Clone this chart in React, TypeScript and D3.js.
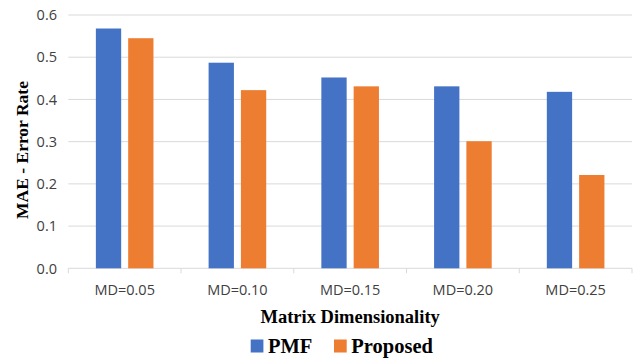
import React from "react";
import * as d3 from "d3";

const categories = ["MD=0.05", "MD=0.10", "MD=0.15", "MD=0.20", "MD=0.25"];
const seriesNames = ["PMF", "Proposed"];
const pmfValues = [0.568, 0.487, 0.452, 0.431, 0.418];
const proposedValues = [0.545, 0.422, 0.431, 0.301, 0.221];
const yTicks = [0, 0.1, 0.2, 0.3, 0.4, 0.5, 0.6];
const colors = ["#4472C4", "#ED7D31"];

const W = 636;
const H = 360;
const plot = { left: 68.3, right: 632, top: 15, bottom: 268.3 };

export default function App() {
  const x = d3
    .scaleBand<string>()
    .domain(categories)
    .range([plot.left, plot.right])
    .paddingInner(0)
    .paddingOuter(0);
  const y = d3.scaleLinear().domain([0, 0.6]).range([plot.bottom, plot.top]);

  const barW = 25.3;
  const gap = 7;
  const series = [pmfValues, proposedValues];
  const fmt = d3.format(".1f");

  const tickFont = "'Open Sans', 'Liberation Sans', sans-serif";
  const titleFont = "'Liberation Serif', 'Times New Roman', serif";

  return (
    <svg
      width={W}
      height={H}
      style={{ position: "absolute", left: 0, top: 0, background: "#fff" }}
    >
      {/* gridlines */}
      {yTicks.map((t) => (
        <line
          key={"g" + t}
          x1={plot.left}
          x2={plot.right}
          y1={y(t)}
          y2={y(t)}
          stroke="#d9d9d9"
          strokeWidth={1}
        />
      ))}
      {/* category tick marks */}
      {categories.map((c) => (
        <line
          key={"t" + c}
          x1={x(c)!}
          x2={x(c)!}
          y1={plot.bottom}
          y2={plot.bottom + 5}
          stroke="#d9d9d9"
        />
      ))}
      <line
        x1={plot.right}
        x2={plot.right}
        y1={plot.bottom}
        y2={plot.bottom + 5}
        stroke="#d9d9d9"
      />
      {/* bars */}
      {series.map((vals, si) =>
        vals.map((v, i) => {
          const cx = x(categories[i])! + x.bandwidth() / 2;
          const x0 = si === 0 ? cx - gap / 2 - barW : cx + gap / 2;
          return (
            <rect
              key={si + "-" + i}
              x={x0}
              y={y(v)}
              width={barW}
              height={y(0) - y(v)}
              fill={colors[si]}
            />
          );
        })
      )}
      {/* y tick labels */}
      {yTicks.map((t) => (
        <text
          key={"yl" + t}
          x={57}
          y={y(t)}
          dy="0.36em"
          textAnchor="end"
          fontFamily={tickFont}
          fontSize={14.5}
          fill="#404040"
        >
          {fmt(t)}
        </text>
      ))}
      {/* x tick labels */}
      {categories.map((c) => (
        <text
          key={"xl" + c}
          x={x(c)! + x.bandwidth() / 2}
          y={295}
          textAnchor="middle"
          fontFamily={tickFont}
          fontSize={14.5}
          fill="#404040"
        >
          {c}
        </text>
      ))}
      {/* axis titles */}
      <text
        x={(plot.left + plot.right) / 2}
        y={322.7}
        textAnchor="middle"
        fontFamily={titleFont}
        fontWeight="bold"
        fontSize={18.5}
        fill="#000"
      >
        Matrix Dimensionality
      </text>
      <text
        transform={`translate(28,150) rotate(-90)`}
        textAnchor="middle"
        fontFamily={titleFont}
        fontWeight="bold"
        fontSize={17.5}
        fill="#000"
      >
        MAE - Error Rate
      </text>
      {/* legend */}
      {seriesNames.map((name, i) => {
        const lx = i === 0 ? 250.7 : 334;
        return (
          <g key={name}>
            <rect x={lx} y={339.5} width={12.7} height={13} fill={colors[i]} />
            <text
              x={lx + 17.3}
              y={352.7}
              fontFamily={titleFont}
              fontWeight="bold"
              fontSize={20.5}
              fill="#000"
            >
              {name}
            </text>
          </g>
        );
      })}
    </svg>
  );
}
